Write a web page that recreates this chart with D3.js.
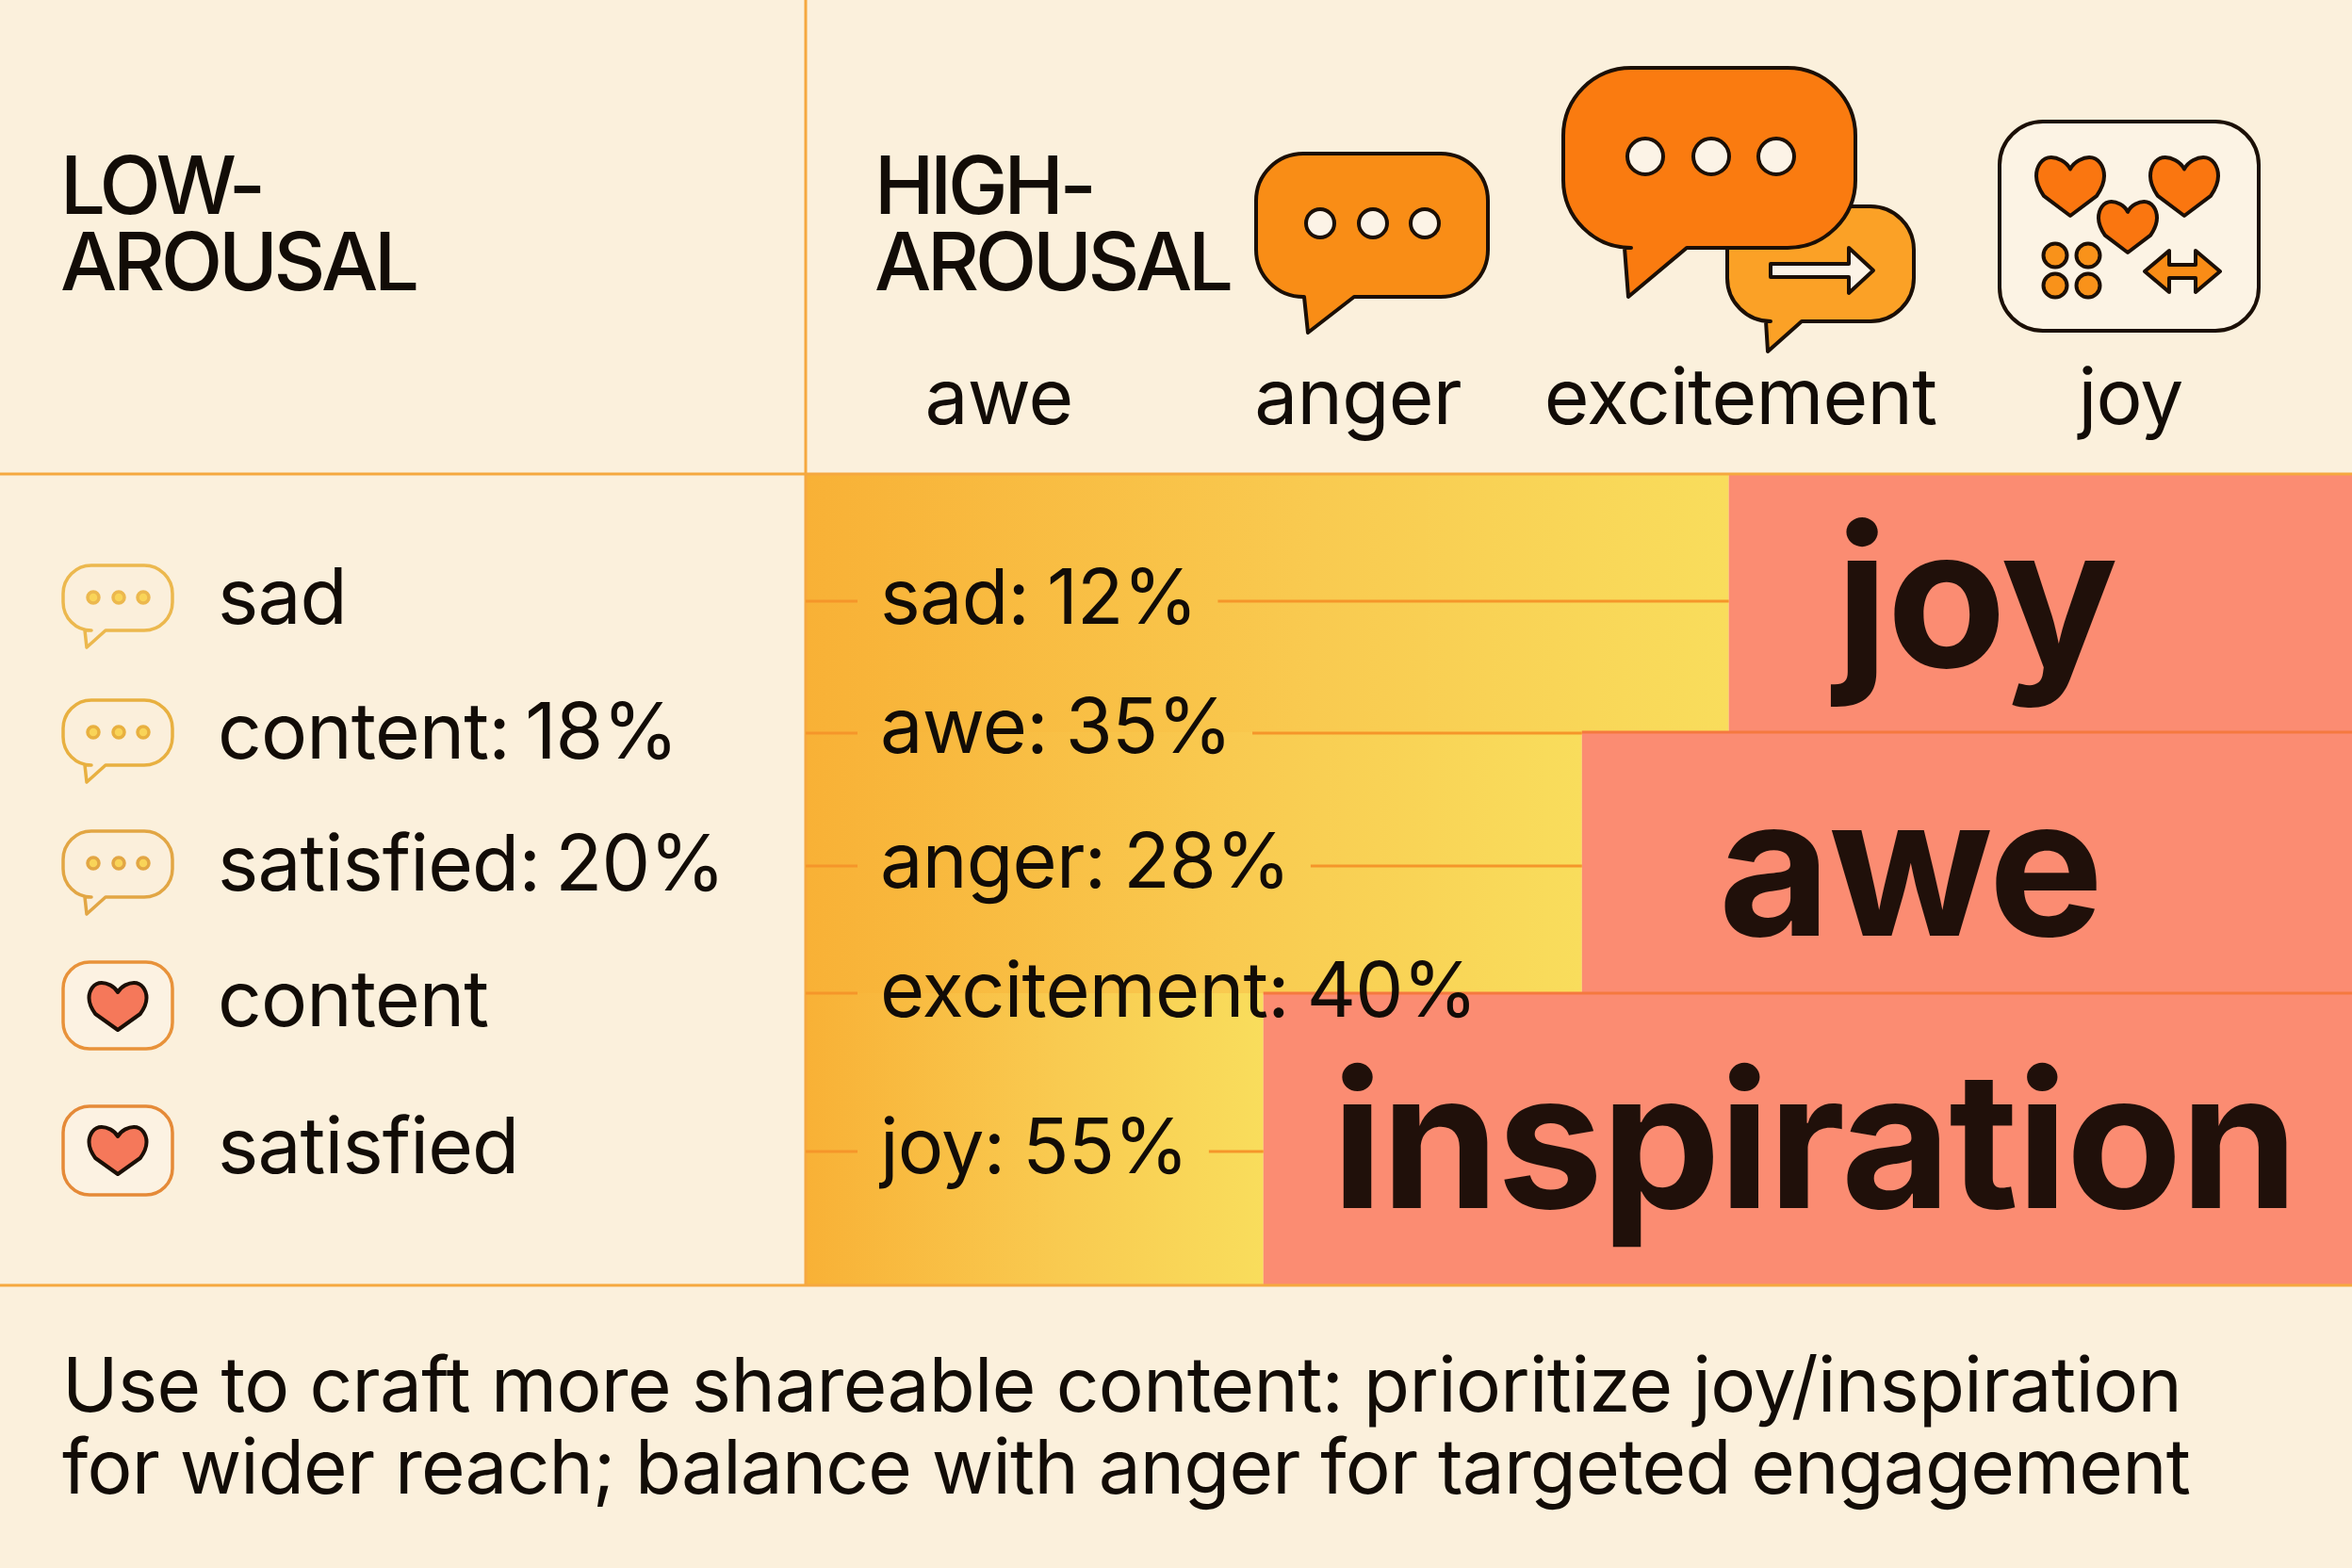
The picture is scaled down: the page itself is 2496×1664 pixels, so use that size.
<!DOCTYPE html>
<html>
<head>
<meta charset="utf-8">
<script src="https://cdn.jsdelivr.net/npm/d3@7"></script>
<style>
	html, body { margin: 0; padding: 0; background: #fbf0dc; }
	svg { display: block; }
	text { font-family: Inter, "Noto Sans", sans-serif; fill: #120c07; }
</style>
</head>
<body>
<div id="chart"></div>
<script>
// chart values
var headerLines = [['LOW-', 'AROUSAL'], ['HIGH-', 'AROUSAL']]
var columnLabels = ['awe', 'anger', 'excitement', 'joy']
var lowLabels = ['sad', 'content: 18%', 'satisfied: 20%', 'content', 'satisfied']
var lowIcons = ['bubble', 'bubble', 'bubble', 'heart', 'heart']
var highCategories = ['sad', 'awe', 'anger', 'excitement', 'joy']
var highValues = [12, 35, 28, 40, 55]
var barCategories = ['joy', 'awe', 'inspiration']
var barShares = [40.3, 49.8, 70.4]
var barRowHeights = [274, 277, 310]
var footerLines = [
	'Use to craft more shareable content: prioritize joy/inspiration',
	'for wider reach; balance with anger for targeted engagement'
]

var width = 2496, height = 1664
var panelLeft = 855, panelTop = 503, panelBottom = 1364

var svg = d3.select('#chart').append('svg')
	.attr('width', width).attr('height', height)
	.attr('viewBox', `0 0 ${width} ${height}`)
var defs = svg.append('defs')

svg.append('rect').attr('width', width).attr('height', height).attr('fill', '#fbf0dc')

var x = d3.scaleLinear().domain([100, 0]).range([panelLeft, width])
var rowEdges = d3.cumsum(barRowHeights)
var y = d3.scaleLinear().domain([0, d3.sum(barRowHeights)]).range([panelTop, panelBottom])
var rowTop = i => y(i ? rowEdges[i - 1] : 0)
var rowBottom = i => y(rowEdges[i])

// gradient bars, one per row
var grad = defs.selectAll('linearGradient').data(barCategories).enter()
	.append('linearGradient')
	.attr('id', (d, i) => 'rowGrad' + i)
	.attr('x1', 0).attr('x2', 1).attr('y1', 0).attr('y2', 0)
grad.append('stop').attr('offset', 0).attr('stop-color', '#f8b136')
grad.append('stop').attr('offset', 0.55).attr('stop-color', '#f9ca50')
grad.append('stop').attr('offset', 1).attr('stop-color', '#f9dd5c')

var rows = svg.append('g').selectAll('g').data(barCategories).enter().append('g')
rows.append('rect')
	.attr('x', panelLeft)
	.attr('y', (d, i) => rowTop(i))
	.attr('width', (d, i) => x(barShares[i]) - panelLeft)
	.attr('height', (d, i) => rowBottom(i) - rowTop(i))
	.attr('fill', (d, i) => `url(#rowGrad${i})`)
rows.append('rect')
	.attr('x', (d, i) => x(barShares[i]))
	.attr('y', (d, i) => rowTop(i))
	.attr('width', (d, i) => width - x(barShares[i]))
	.attr('height', (d, i) => rowBottom(i) - rowTop(i))
	.attr('fill', '#fb8c72')

// frame lines
var frame = svg.append('g').attr('stroke', '#f5a83f').attr('stroke-width', 3)
frame.append('line').attr('x1', panelLeft).attr('x2', panelLeft).attr('y1', 0).attr('y2', panelBottom)
frame.append('line').attr('x1', 0).attr('x2', width).attr('y1', panelTop).attr('y2', panelTop)
frame.append('line').attr('x1', 0).attr('x2', width).attr('y1', panelBottom).attr('y2', panelBottom)

// red rules between the stepped bars
var rules = svg.append('g').attr('stroke', '#f5793f').attr('stroke-width', 3)
barCategories.slice(0, 2).forEach((d, i) => {
	rules.append('line')
		.attr('x1', x(barShares[i + 1])).attr('x2', width)
		.attr('y1', rowBottom(i)).attr('y2', rowBottom(i))
})

function addText(parent, str, px, py, size, opts) {
	opts = opts || {}
	return parent.append('text')
		.text(str)
		.attr('x', px).attr('y', py)
		.attr('font-size', size)
		.attr('font-weight', opts.weight || 400)
		.attr('letter-spacing', opts.spacing || 0)
		.attr('word-spacing', opts.wordSpacing || 0)
		.attr('text-anchor', opts.anchor || 'start')
		.style('fill', opts.fill || null)
}

// headers, two lines in one text
var headerX = [64, 928]
headerLines.forEach((lines, i) => {
	var t = addText(svg, null, headerX[i], 227, 85, { weight: 500, spacing: -4.2 })
	lines.forEach((d, j) => {
		t.append('tspan').attr('x', headerX[i]).attr('dy', j ? 81 : 0).text(d)
	})
})

var columnX = [1060, 1441, 1847, 2261]
columnLabels.forEach((d, i) => addText(svg, d, columnX[i], 450, 82, { anchor: 'middle', spacing: -0.8 }))

// low arousal list
var lowBaseline = [662, 805, 945, 1089, 1245]
lowLabels.forEach((d, i) => addText(svg, d, 231, lowBaseline[i], 82, { spacing: -0.9, wordSpacing: -6 }))

// high arousal list with leader lines
var highBaseline = [662, 799, 942, 1079, 1245]
var leaderY = [638, 778, 919, 1054, 1222]
var leaderEnd = [x(barShares[0]), x(barShares[1]), x(barShares[1]), null, x(barShares[2])]
var leaders = svg.append('g').attr('stroke', '#f5962a').attr('stroke-width', 3)
highCategories.forEach((d, i) => {
	var t = addText(svg, `${d}: ${highValues[i]}%`, 934, highBaseline[i], 81, { spacing: -0.8, wordSpacing: -3 })
	var end = t.node().getComputedTextLength() + 934 + 22
	leaders.append('line').attr('x1', panelLeft).attr('x2', 910).attr('y1', leaderY[i]).attr('y2', leaderY[i])
	if (leaderEnd[i]) {
		leaders.append('line').attr('x1', end).attr('x2', leaderEnd[i]).attr('y1', leaderY[i]).attr('y2', leaderY[i])
	}
})

// big bar words
var barTextX = [2097, 2027, 1925]
var barTextY = [708, 993, 1282]
var barTextSize = [207, 205, 201]
barCategories.forEach((d, i) => addText(svg, d, barTextX[i], barTextY[i], barTextSize[i],
	{ weight: 700, anchor: 'middle', fill: '#20100a', spacing: -2 }))

// footer
var footerSpacing = [-0.62, -0.8]
footerLines.forEach((d, i) => addText(svg, d, 66, 1498 + i * 87, 80, { spacing: footerSpacing[i] }))

// icon helpers
function bubblePath(x0, y0, x1, y1, r, tail) {
	var p = d3.path()
	p.moveTo(x0 + r, y0)
	p.lineTo(x1 - r, y0)
	p.arcTo(x1, y0, x1, y0 + r, r)
	p.lineTo(x1, y1 - r)
	p.arcTo(x1, y1, x1 - r, y1, r)
	p.lineTo(tail[1], y1)
	p.lineTo(tail[2], tail[3])
	p.lineTo(tail[0], y1)
	p.lineTo(x0 + r, y1)
	p.arcTo(x0, y1, x0, y1 - r, r)
	p.lineTo(x0, y0 + r)
	p.arcTo(x0, y0, x0 + r, y0, r)
	p.closePath()
	return p.toString()
}
function heartPath(cx, top, w, h) {
	var p = d3.path()
	var hw = w / 2
	p.moveTo(cx, top + h * 0.2)
	p.bezierCurveTo(cx - hw * 0.12, top + h * 0.06, cx - hw * 0.4, top, cx - hw * 0.56, top)
	p.bezierCurveTo(cx - hw * 0.84, top, cx - hw, top + h * 0.16, cx - hw, top + h * 0.32)
	p.bezierCurveTo(cx - hw, top + h * 0.46, cx - hw * 0.9, top + h * 0.56, cx - hw * 0.78, top + h * 0.66)
	p.lineTo(cx, top + h)
	p.lineTo(cx + hw * 0.78, top + h * 0.66)
	p.bezierCurveTo(cx + hw * 0.9, top + h * 0.56, cx + hw, top + h * 0.46, cx + hw, top + h * 0.32)
	p.bezierCurveTo(cx + hw, top + h * 0.16, cx + hw * 0.84, top, cx + hw * 0.56, top)
	p.bezierCurveTo(cx + hw * 0.4, top, cx + hw * 0.12, top + h * 0.06, cx, top + h * 0.2)
	p.closePath()
	return p.toString()
}
function rightArrow(x0, x1, cy, shaft, headW, headH) {
	return `M${x0},${cy - shaft}L${x1 - headW},${cy - shaft}L${x1 - headW},${cy - headH}L${x1},${cy}L${x1 - headW},${cy + headH}L${x1 - headW},${cy + shaft}L${x0},${cy + shaft}Z`
}
function bothArrow(x0, x1, cy, shaft, headW, headH) {
	return `M${x0},${cy}L${x0 + headW},${cy - headH}L${x0 + headW},${cy - shaft}L${x1 - headW},${cy - shaft}L${x1 - headW},${cy - headH}L${x1},${cy}L${x1 - headW},${cy + headH}L${x1 - headW},${cy + shaft}L${x0 + headW},${cy + shaft}L${x0 + headW},${cy + headH}Z`
}

var dark = '#1b0f06'
var icons = svg.append('g').attr('stroke-linejoin', 'round')

// anger
icons.append('path').attr('d', bubblePath(1333, 163, 1579, 315, 50, [1384, 1437, 1388, 353]))
	.attr('fill', '#f98d16').attr('stroke', dark).attr('stroke-width', 4)
var angerDots = [1401, 1457, 1512]
angerDots.forEach(d => {
	icons.append('circle').attr('cx', d).attr('cy', 237).attr('r', 15)
		.attr('fill', '#fcf3e6').attr('stroke', dark).attr('stroke-width', 4)
})

// excitement, small bubble sits behind the large one
icons.append('path').attr('d', bubblePath(1833, 219, 2031, 341, 46, [1874, 1912, 1876, 373]))
	.attr('fill', '#fba126').attr('stroke', dark).attr('stroke-width', 4)
icons.append('path').attr('d', bubblePath(1659, 72, 1969, 263, 72, [1724, 1790, 1728, 315]))
	.attr('fill', '#fa7b10').attr('stroke', dark).attr('stroke-width', 4)
var excitementDots = [1746, 1816, 1885]
excitementDots.forEach(d => {
	icons.append('circle').attr('cx', d).attr('cy', 166).attr('r', 19)
		.attr('fill', '#fcf3e6').attr('stroke', dark).attr('stroke-width', 4)
})
icons.append('path').attr('d', rightArrow(1879, 1988, 287, 7, 26, 24))
	.attr('fill', '#fcf3e6').attr('stroke', dark).attr('stroke-width', 4)

// joy
icons.append('rect').attr('x', 2122).attr('y', 129).attr('width', 275).attr('height', 222).attr('rx', 46)
	.attr('fill', '#fcf3e4').attr('stroke', dark).attr('stroke-width', 4)
var joyHearts = [[2197, 167, 72, 62], [2318, 167, 72, 62], [2258, 214, 62, 54]]
joyHearts.forEach(d => {
	icons.append('path').attr('d', heartPath(d[0], d[1], d[2], d[3]))
		.attr('fill', '#fa7610').attr('stroke', dark).attr('stroke-width', 4)
})
var joyDots = [[2181, 271], [2216, 271], [2181, 303], [2216, 303]]
joyDots.forEach(d => {
	icons.append('circle').attr('cx', d[0]).attr('cy', d[1]).attr('r', 12.5)
		.attr('fill', '#f9921a').attr('stroke', dark).attr('stroke-width', 4)
})
icons.append('path').attr('d', bothArrow(2276, 2356, 288, 7, 26, 22))
	.attr('fill', '#f98c16').attr('stroke', dark).attr('stroke-width', 4)

// low arousal icons
var lowIconTop = [600, 743, 882, 1021, 1174]
var lowIconHeight = [69, 69, 70, 92, 94]
var lowStroke = ['#ecb84e', '#e8b040', '#e2a644', '#e8923a', '#e58a38']
lowIcons.forEach((kind, i) => {
	var top = lowIconTop[i], h = lowIconHeight[i]
	if (kind == 'bubble') {
		icons.append('path').attr('d', bubblePath(67, top, 183, top + h, 30, [90, 112, 92, top + h + 18]))
			.attr('fill', '#fbefdb').attr('stroke', lowStroke[i]).attr('stroke-width', 3.5)
		var dotsX = [99, 126, 152]
		dotsX.forEach(cx => {
			icons.append('circle').attr('cx', cx).attr('cy', top + 34).attr('r', 6)
				.attr('fill', '#f9d458').attr('stroke', lowStroke[i]).attr('stroke-width', 3.5)
		})
	} else {
		icons.append('rect').attr('x', 67).attr('y', top).attr('width', 116).attr('height', h).attr('rx', 28)
			.attr('fill', '#fcf2e2').attr('stroke', lowStroke[i]).attr('stroke-width', 3.5)
		icons.append('path').attr('d', heartPath(125, top + 22, 61, 50))
			.attr('fill', '#f5785a').attr('stroke', dark).attr('stroke-width', 4)
	}
})
</script>
</body>
</html>
